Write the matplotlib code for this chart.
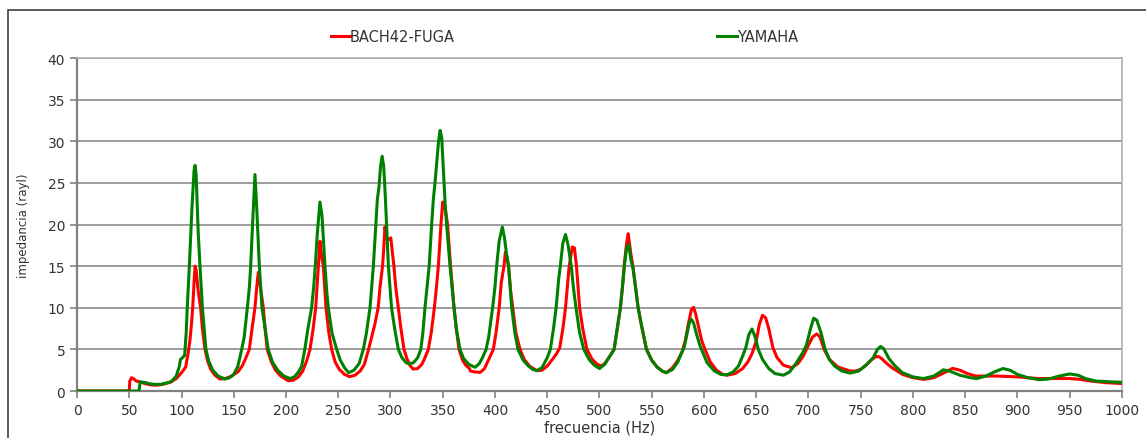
import numpy as np
import matplotlib.pyplot as plt
from matplotlib.lines import Line2D
from matplotlib.patches import Rectangle

plt.rcParams['font.family'] = ['DejaVu Sans']

# BACH42-FUGA (rojo): (frecuencia Hz, impedancia rayl)
bach = [
    (0, 0), (50, 0), (50.5, 1.2), (52.2, 1.6), (54, 1.5), (56.6, 1.2), (60, 1.1), (65, 0.9),
    (70, 0.75), (75, 0.7), (80, 0.75), (85, 0.9), (90, 1.1), (95, 1.5), (100, 2.2), (103, 2.7),
    (104, 2.9), (105, 3.6), (106, 4.3), (108, 6), (109.5, 8), (110.7, 10), (112, 13), (113, 15),
    (114, 14.5), (116, 12), (118.3, 10), (120, 7.5), (122.5, 5), (125, 3.6), (128, 2.6),
    (132, 1.9), (136.8, 1.44), (142, 1.5), (148, 1.8), (154, 2.3), (158, 3.0), (161, 3.8),
    (164.9, 5), (167.5, 7.5), (170.3, 10), (172, 12.5), (173.5, 14.25), (175.5, 12.5),
    (178.3, 10), (180, 7.5), (182, 5), (186, 3.5), (190, 2.5), (195, 1.8), (202, 1.24),
    (207, 1.3), (212, 1.7), (216, 2.4), (220, 3.7), (223, 5), (226, 7.5), (228.4, 10),
    (230.9, 15), (232.5, 18), (234, 16.3), (235.7, 15), (238.3, 10), (241, 7), (243.7, 5),
    (247, 3.5), (251, 2.6), (256, 2.0), (261, 1.72), (266, 1.9), (271, 2.4), (275, 3.2),
    (279, 5), (282, 6.5), (285, 8), (288.2, 10), (290, 12.5), (292.4, 15), (293.5, 17),
    (294.7, 19.7), (296.5, 18.3), (298.5, 18.2), (300.3, 18.4), (302, 16.5), (303.3, 15),
    (305, 12.5), (307.5, 10), (310, 7.5), (312.9, 5), (316, 3.8), (319, 3.0), (321.8, 2.64),
    (326, 2.7), (330, 3.2), (333, 4), (336.2, 5), (339, 7), (342, 10), (344, 12.5),
    (345.8, 15), (347, 17.5), (348.3, 20), (350, 22.7), (352, 22.3), (354.6, 20), (357.5, 15),
    (360.8, 10), (363, 7.5), (365.6, 5), (369, 3.7), (372, 3.1), (375.6, 2.7), (376.5, 2.4),
    (380, 2.3), (386, 2.25), (390, 2.7), (394, 3.8), (398.4, 5), (401, 7), (404, 10),
    (406, 13), (408.6, 15), (410, 16.7), (411.5, 16), (413, 15), (415, 12), (417, 10),
    (420, 7), (424, 5), (428, 3.8), (433, 3.0), (440, 2.45), (445, 2.5), (450, 3.0),
    (455, 3.8), (459, 4.5), (462, 5.2), (465, 7.5), (467.5, 10), (471, 15), (474, 17.3),
    (476, 17.2), (478, 15), (481, 10), (484, 7.5), (488, 5), (493, 3.8), (498, 3.2),
    (502, 3.0), (505, 3.3), (510, 4.2), (514, 5), (517, 7.5), (520, 10), (522, 12.5),
    (524, 15.5), (526, 17.8), (527.5, 18.9), (530, 16.5), (532, 15), (535, 12), (537, 10),
    (540, 8), (545, 5), (550, 3.7), (555, 2.9), (560, 2.4), (564, 2.2), (570, 2.8),
    (575, 3.7), (579, 4.7), (582, 6), (585, 8), (588, 9.8), (590, 10.05), (592, 9.3),
    (595, 7.6), (598, 6), (601, 5), (606, 3.5), (612, 2.5), (618, 2.0), (622, 1.9),
    (630, 2.1), (637, 2.7), (642, 3.5), (646, 4.5), (650, 6), (653, 8), (656, 9.1),
    (659, 8.8), (662, 7.5), (666, 5.2), (670, 4.0), (676, 3.1), (684, 2.8), (690, 3.3),
    (695, 4.2), (700, 5.5), (704, 6.5), (708, 6.85), (711, 6.5), (715, 5.0), (720, 3.8),
    (728, 2.9), (735, 2.6), (740, 2.4), (745, 2.4), (750, 2.6), (755, 3.1), (760, 3.7),
    (764, 4.1), (767, 4.15), (770, 3.9), (775, 3.3), (780, 2.8), (790, 2.0), (800, 1.6),
    (810, 1.4), (820, 1.6), (830, 2.2), (838, 2.72), (845, 2.5), (852, 2.1), (860, 1.8),
    (870, 1.8), (880, 1.8), (890, 1.75), (900, 1.7), (910, 1.6), (920, 1.5), (930, 1.5),
    (940, 1.5), (950, 1.5), (960, 1.4), (970, 1.2), (985, 1.0), (1000, 0.9),
]

# YAMAHA (verde)
yamaha = [
    (0, 0), (59.3, 0), (60.5, 1.1), (66, 1.0), (70, 0.85), (75, 0.8), (80, 0.8), (85, 0.95),
    (90, 1.1), (95, 1.8), (98, 3.0), (99, 3.8), (101, 4.0), (103, 4.3), (104.5, 7),
    (105.5, 10), (107.5, 15), (110, 22), (112, 26.5), (113, 27.1), (114, 26), (116, 19),
    (117.7, 15), (120, 10), (122, 7), (123.4, 5), (126, 3.6), (130, 2.5), (135, 1.8),
    (141.6, 1.44), (146, 1.6), (150, 2.0), (154, 3), (157.6, 5), (160, 6.5), (163, 10),
    (165, 12.5), (166.2, 15), (168, 20), (170.3, 26), (172, 22), (174.5, 15), (177, 10),
    (180, 7.5), (183, 5), (187, 3.5), (192, 2.5), (198, 1.8), (204, 1.5), (208, 1.7),
    (212, 2.3), (215, 3.0), (218, 5), (221, 7.5), (224.5, 10), (226.5, 12.5), (228, 15),
    (230, 19), (232.5, 22.7), (234.5, 21), (237.3, 15), (239, 12), (240.5, 10), (244, 7),
    (248.5, 5), (252, 3.7), (256, 2.8), (260, 2.2), (265, 2.5), (270, 3.3), (274, 5),
    (277, 7), (280.4, 10), (283.6, 15), (285, 18), (287.4, 23), (289, 24.5), (290.5, 27),
    (292, 28.2), (293.5, 27), (295, 23.5), (298, 15), (301, 10), (304, 7.5), (307.5, 5),
    (311, 4), (315, 3.4), (318, 3.25), (322, 3.4), (326, 4), (329, 5), (331, 7), (333, 10),
    (335, 12.5), (337, 15), (339.4, 20), (341, 23), (342.6, 25), (344, 27), (346, 30),
    (347.5, 31.3), (349, 30.5), (351.2, 25), (352.5, 22), (353.7, 20), (357, 15),
    (360.8, 10), (363, 7.5), (366.5, 5), (370, 3.9), (375, 3.2), (381, 2.85), (385, 3.3),
    (388, 4), (391.5, 5), (394, 6.5), (397.7, 10), (400, 12.5), (401.6, 15), (404, 18),
    (407, 19.7), (409, 18.5), (411, 16.5), (413, 15), (416, 10), (419, 7), (422, 5),
    (427, 3.7), (432, 3.0), (436, 2.6), (440, 2.45), (445, 2.8), (450, 4), (453, 5),
    (456, 7.5), (458.5, 10), (461, 13.5), (462.5, 15), (465, 17.8), (467.5, 18.8),
    (470, 17.5), (473, 15), (475, 12.5), (477.5, 10), (481, 7), (485, 5), (490, 3.8),
    (495, 3.1), (500, 2.7), (505, 3.2), (510, 4.2), (514, 5), (517, 7.5), (520, 10),
    (522, 12.5), (524, 15.2), (526, 17.2), (528, 17.6), (530, 15.8), (532, 14.8),
    (535, 12), (537, 10), (540, 8), (545, 5), (550, 3.7), (555, 2.9), (560, 2.4), (564, 2.2),
    (570, 2.6), (575, 3.5), (578, 4.4), (581, 5.2), (584, 7), (586, 8.2), (588, 8.6),
    (590, 8.2), (593, 6.8), (596, 5.5), (599, 4.6), (603, 3.4), (610, 2.4), (616, 2.0),
    (622, 1.95), (628, 2.3), (633, 3.0), (637, 4.2), (640, 5.2), (643, 6.8), (646, 7.45),
    (649, 6.5), (652, 5.0), (656, 3.8), (662, 2.7), (668, 2.1), (676, 1.9), (682, 2.3),
    (688, 3.3), (694, 4.5), (698, 5.5), (702, 7.5), (705, 8.75), (708, 8.5), (712, 7),
    (716, 5), (720, 3.8), (725, 3.0), (732, 2.4), (740, 2.15), (748, 2.4), (755, 3.1),
    (762, 4.0), (766, 5.0), (769, 5.35), (772, 5.1), (777, 3.9), (783, 3.0), (790, 2.2),
    (800, 1.7), (810, 1.5), (820, 1.8), (825, 2.2), (829, 2.55), (835, 2.4), (845, 1.9),
    (855, 1.6), (861, 1.5), (870, 1.8), (878, 2.3), (886, 2.7), (893, 2.5), (900, 2.0),
    (910, 1.6), (921, 1.36), (930, 1.45), (940, 1.8), (950, 2.05), (958, 1.9), (965, 1.5),
    (975, 1.2), (990, 1.1), (1000, 1.05),
]

f_bach, z_bach = zip(*bach)
f_yam, z_yam = zip(*yamaha)

fig = plt.figure(figsize=(11.46, 4.39), dpi=100)
ax = fig.add_axes([0.0672, 0.107, 0.9118, 0.7586])

# marco exterior
fig.patches.append(Rectangle((8 / 1146, -0.05), 1.2, (439 - 11) / 439 + 0.05,
                             transform=fig.transFigure, fill=False,
                             edgecolor='#404040', linewidth=1.2))

ax.plot(f_bach, z_bach, color='#ff0000', lw=2.2, zorder=3, solid_joinstyle='round')
ax.plot(f_yam, z_yam, color='#008000', lw=2.2, zorder=4, solid_joinstyle='round')

ax.set_xlim(0, 1000)
ax.set_ylim(0, 40)
ax.set_xticks(np.arange(0, 1001, 50))
ax.set_yticks(np.arange(0, 41, 5))
ax.grid(axis='y', color='#8c8c8c', lw=1.2)
ax.set_axisbelow(True)
for s in ['top', 'right']:
    ax.spines[s].set_color('#b0b0b0')
    ax.spines[s].set_linewidth(1.2)
for s in ['left', 'bottom']:
    ax.spines[s].set_color('#808080')
    ax.spines[s].set_linewidth(1.6)
ax.tick_params(direction='out', length=5, width=1.2, color='#808080',
               labelsize=10, labelcolor='#333333')
ax.set_xlabel('frecuencia (Hz)', fontsize=10.5, color='#333333', labelpad=2)
ax.set_ylabel('impedancia (rayl)', fontsize=8.5, color='#333333')
ax.yaxis.set_label_coords(-0.045, 0.5)

# leyenda
fig.lines.append(Line2D([331 / 1146, 350 / 1146], [1 - 37 / 439] * 2, color='#ff0000',
                        lw=2.2, transform=fig.transFigure))
fig.text(350 / 1146, 1 - 37 / 439, 'BACH42-FUGA', fontsize=10.5, color='#333333', va='center')
fig.lines.append(Line2D([717 / 1146, 737 / 1146], [1 - 37 / 439] * 2, color='#008000',
                        lw=2.2, transform=fig.transFigure))
fig.text(737 / 1146, 1 - 37 / 439, 'YAMAHA', fontsize=10.5, color='#333333', va='center')

fig.savefig('out.png', dpi=100)
